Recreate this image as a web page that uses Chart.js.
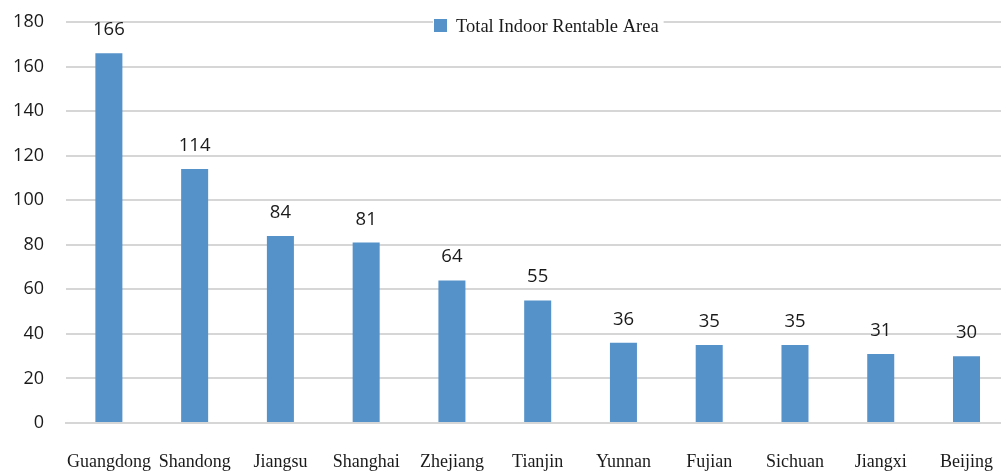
<!DOCTYPE html>
<html><head><meta charset="utf-8">
<script src="https://cdn.jsdelivr.net/npm/chart.js@4/dist/chart.umd.min.js"></script>
<style>html,body{margin:0;padding:0;overflow:hidden;background:#fff}#wrap{width:1021px;height:471px}</style>
</head><body><div id="wrap"><canvas id="c" width="1021" height="471"></canvas></div>
<script>
const categories = ['Guangdong','Shandong','Jiangsu','Shanghai','Zhejiang','Tianjin','Yunnan','Fujian','Sichuan','Jiangxi','Beijing'];
const values = [166,114,84,81,64,55,36,35,35,31,30];
const seriesName = 'Total Indoor Rentable Area';
const yMin = 0, yMax = 180, yStep = 20;

const barColor = '#5592ca';
const gridColor = '#d6d6d6';

const dataLabels = {
  id: 'dataLabels',
  afterDatasetsDraw(chart) {
    const ctx = chart.ctx;
    const meta = chart.getDatasetMeta(0);
    ctx.save();
    ctx.font = '18.5px "Open Sans"';
    ctx.fillStyle = '#1a1a1a';
    ctx.textAlign = 'center';
    ctx.textBaseline = 'alphabetic';
    meta.data.forEach((bar, i) => {
      ctx.fillText(String(chart.data.datasets[0].data[i]), bar.x, bar.y - 18);
    });
    ctx.restore();
  }
};

const innerLegend = {
  id: 'innerLegend',
  afterDraw(chart) {
    const ctx = chart.ctx;
    ctx.save();
    ctx.font = '18.5px "Liberation Serif"';
    const tw = ctx.measureText(seriesName).width;
    const boxX = 434, boxY = 19, boxS = 13;
    const tx = boxX + boxS + 9;
    ctx.fillStyle = '#fff';
    ctx.fillRect(boxX - 1, chart.chartArea.top - 2, tx + tw - boxX + 6, 5);
    ctx.fillStyle = barColor;
    ctx.fillRect(boxX, boxY, boxS, boxS);
    ctx.fillStyle = '#1a1a1a';
    ctx.textBaseline = 'alphabetic';
    ctx.textAlign = 'left';
    ctx.fillText(seriesName, tx, 32);
    ctx.restore();
  }
};

new Chart(document.getElementById('c'), {
  type: 'bar',
  data: {
    labels: categories,
    datasets: [{
      label: seriesName,
      data: values,
      backgroundColor: barColor,
      borderWidth: 0,
      categoryPercentage: 1,
      barPercentage: 0.315
    }]
  },
  options: {
    responsive: false,
    animation: false,
    devicePixelRatio: 1,
    layout: { padding: { top: 22, left: 0, right: 0, bottom: 0 } },
    plugins: { legend: { display: false }, tooltip: { enabled: false } },
    scales: {
      x: {
        grid: { display: false, drawTicks: false },
        border: { display: true, color: gridColor, width: 2 },
        ticks: { color: '#1a1a1a', font: { family: 'Liberation Serif', size: 18 }, padding: 28, maxRotation: 0, autoSkip: false },
        afterFit(scale) { scale.height = 48; }
      },
      y: {
        min: yMin, max: yMax,
        grid: { color: gridColor, lineWidth: 2, drawTicks: false },
        border: { display: false },
        ticks: { stepSize: yStep, color: '#1a1a1a', font: { family: 'Open Sans', size: 18, lineHeight: 0.01 }, padding: 22 },
        afterFit(scale) { scale.width = 66; }
      }
    }
  },
  plugins: [dataLabels, innerLegend]
});
</script>
</body></html>
